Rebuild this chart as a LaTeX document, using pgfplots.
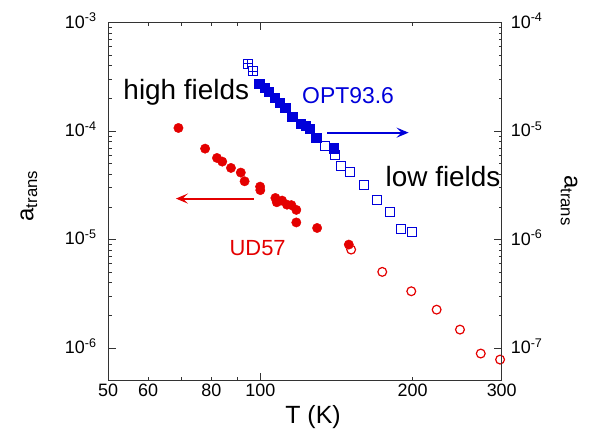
\documentclass[border=0pt]{standalone}
\usepackage{fontspec}
\setmainfont{Liberation Sans}
\usepackage{pgfplots}
\pgfplotsset{compat=1.18}
\usetikzlibrary{arrows.meta}
\definecolor{dred}{RGB}{228,0,0}
\definecolor{dblue}{RGB}{0,0,218}
\begin{document}
\begin{tikzpicture}
\begin{axis}[
  scale only axis, width=393.7bp, height=358bp,
  xmode=log, ymode=log,
  xmin=50, xmax=300, ymin=5e-7, ymax=1e-3,
  clip=false,
  axis line style={black!80, line width=0.9bp},
  tick style={black!80, line width=0.9bp},
  tick align=inside,
  major tick length=7.5bp, minor tick length=3.5bp,
  xtick={100}, xticklabels={100},
  minor xtick={60,70,80,90,200},
  extra x ticks={50,60,80,200,300},
  extra x tick labels={50,60,80,200,300},
  extra x tick style={major tick length=3.5bp},
  xtick pos=both,
  ytick={1e-6,1e-5,1e-4,1e-3},
  yticklabels={10\textsuperscript{-6},10\textsuperscript{-5},10\textsuperscript{-4},10\textsuperscript{-3}},
  minor ytick={},
  ytick pos=left,
  tick label style={font=\fontsize{18}{18}\selectfont},
  yticklabel style={xshift=-8bp, yshift=2bp},
  xlabel={T (K)},
  xlabel style={font=\fontsize{25}{25}\selectfont, at={(axis description cs:0.5207,-0.1014)}, anchor=center},
  ylabel={a\textsubscript{trans}},
  ylabel style={font=\fontsize{24}{24}\selectfont, at={(axis description cs:-0.2007,0.516)}, anchor=center},
]
\addplot[only marks, mark=*, mark size=4.7bp, dred, mark options={draw=dred, fill=dred}] coordinates {
(68.9,1.07e-4) (77.8,6.90e-5) (82.1,5.66e-5) (84.1,5.24e-5) (87.5,4.58e-5)
(91.5,4.15e-5) (93.1,3.45e-5) (99.9,3.08e-5) (100.0,2.86e-5) (107.1,2.42e-5)
(107.8,2.21e-5) (110.4,2.29e-5) (112.9,2.10e-5) (115.2,2.08e-5) (117.8,1.88e-5)
(117.8,1.44e-5) (129.5,1.28e-5) (149.6,9.0e-6)
};
\addplot[only marks, mark=o, mark size=4.4bp, dred, mark options={draw=dred, fill=white, line width=1.2bp}] coordinates {
(151.2,8.09e-6) (174.2,5.04e-6) (198.8,3.34e-6) (223.1,2.26e-6)
(248.1,1.48e-6) (272.7,8.9e-7) (297.8,7.83e-7)
};
\draw[dblue, line width=2bp, -{Stealth[length=12bp,width=10bp,inset=5bp]}] (axis cs:135.5,9.69e-5) -- (axis cs:196.4,9.69e-5);
\draw[dred, line width=2bp, -{Stealth[length=12bp,width=10bp,inset=5bp]}] (axis cs:97,2.39e-5) -- (axis cs:68.1,2.39e-5);
\node[anchor=base west, inner sep=0pt, font=\fontsize{28}{28}\selectfont] at (axis cs:53.6,1.95e-4) {high fields};
\node[anchor=base west, inner sep=0pt, text=dblue, font=\fontsize{23}{23}\selectfont] at (axis cs:120.9,1.79e-4) {OPT93.6};
\node[anchor=base west, inner sep=0pt, font=\fontsize{28}{28}\selectfont] at (axis cs:176.8,3.10e-5) {low fields};
\node[anchor=base west, inner sep=0pt, text=dred, font=\fontsize{22}{22}\selectfont] at (axis cs:86.9,7.12e-6) {UD57};
\end{axis}
\begin{axis}[
  scale only axis, width=393.7bp, height=358bp,
  xmode=log, ymode=log,
  xmin=50, xmax=300, ymin=5e-8, ymax=1e-4,
  hide x axis,
  axis y line*=right,
  axis line style={black!80, line width=0.9bp},
  tick style={black!80, line width=0.9bp},
  tick align=inside,
  major tick length=7.5bp,
  ytick={1e-7,1e-6,1e-5,1e-4},
  yticklabels={10\textsuperscript{-7},10\textsuperscript{-6},10\textsuperscript{-5},10\textsuperscript{-4}},
  minor ytick={},
  tick label style={font=\fontsize{18}{18}\selectfont},
  yticklabel style={xshift=5.6bp, yshift=2bp},
  ylabel={a\textsubscript{trans}},
  ylabel style={font=\fontsize{24}{24}\selectfont, at={(axis description cs:1.171,0.503)}, anchor=center, rotate=180},
]
\addplot[only marks, mark=square*, mark size=4.5bp, dblue, mark options={draw=dblue, fill=white, line width=1bp}] coordinates {
(134.5,7.24e-6) (140.2,6.07e-6) (144.5,4.74e-6) (150.3,4.17e-6) (160.2,3.21e-6)
(170.3,2.34e-6) (180.3,1.79e-6) (189.9,1.26e-6) (199.7,1.17e-6)
};
\addplot[only marks, mark=square*, mark size=4.6bp, dblue, mark options={draw=dblue, fill=dblue}] coordinates {
(99.5,2.72e-5) (102,2.50e-5) (103.9,2.30e-5) (106.6,2.05e-5) (109.2,1.84e-5)
(112,1.64e-5) (115.6,1.37e-5) (120,1.165e-5) (122.8,1.124e-5) (125,1.055e-5)
(128.9,8.77e-6) (139.7,6.97e-6)
};
\addplot[only marks, mark=square*, mark size=4.5bp, dblue, mark options={draw=dblue, fill=white, line width=1bp}] coordinates {
(94.4,4.19e-5) (96.7,3.56e-5)
};
\addplot[only marks, mark=+, mark size=4.5bp, dblue, mark options={draw=dblue, line width=1bp}] coordinates {
(94.4,4.19e-5) (96.7,3.56e-5)
};
\end{axis}
\pgfresetboundingbox
\path[use as bounding box] (-108bp,-53.3bp) rectangle (492bp,380.7bp);
\end{tikzpicture}
\end{document}
